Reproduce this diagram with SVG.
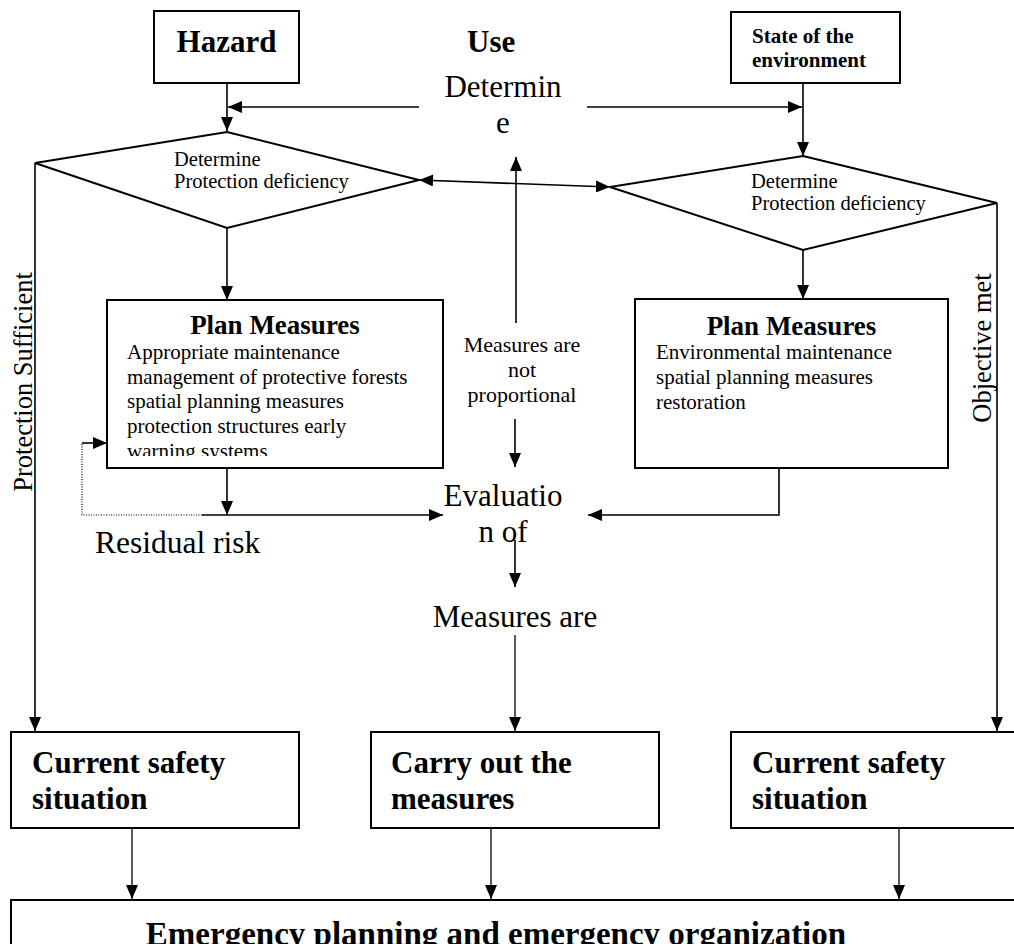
<svg xmlns="http://www.w3.org/2000/svg" width="1014" height="944" viewBox="0 0 1014 944">
  <style>
    text { font-family: "Liberation Serif", "Times New Roman", serif; fill: #000; }
    .box { fill: #fff; stroke: #000; stroke-width: 2; }
    .b { font-weight: bold; }
    .c { text-anchor: middle; }
    .ln { fill: none; stroke: #000; stroke-width: 1.6; }
    .thin { fill: none; stroke: #000; stroke-width: 1.3; }
    .dot { fill: none; stroke: #000; stroke-width: 1.2; stroke-dasharray: 1 1.5; }
  </style>
  <defs>
    <marker id="arr" markerUnits="userSpaceOnUse" markerWidth="15" markerHeight="12" refX="14" refY="6" orient="auto">
      <path d="M0,0 L14,6 L0,12 z" fill="#000"/>
    </marker>
    <marker id="arrS" markerUnits="userSpaceOnUse" markerWidth="15" markerHeight="12" refX="0" refY="6" orient="auto">
      <path d="M14,0 L0,6 L14,12 z" fill="#000"/>
    </marker>
    <clipPath id="clipL">
      <rect x="108" y="301" width="334" height="155"/>
    </clipPath>
  </defs>
  <rect width="1014" height="944" fill="#fff"/>

  <!-- connectors -->
  <g id="connectors">
    <line class="ln" x1="227" y1="83" x2="227" y2="131" marker-end="url(#arr)"/>
    <line class="ln" x1="419" y1="107" x2="228" y2="107" marker-end="url(#arr)"/>
    <line class="ln" x1="587" y1="107" x2="802" y2="107" marker-end="url(#arr)"/>
    <line class="ln" x1="803" y1="83" x2="803" y2="156" marker-end="url(#arr)"/>
    <line class="ln" x1="419" y1="180" x2="610" y2="187" marker-start="url(#arrS)" marker-end="url(#arr)"/>
    <line class="ln" x1="516" y1="323" x2="516" y2="157" marker-end="url(#arr)"/>
    <line class="ln" x1="227" y1="228" x2="227" y2="300" marker-end="url(#arr)"/>
    <line class="ln" x1="803" y1="250" x2="803" y2="299" marker-end="url(#arr)"/>
    <line class="ln" x1="35" y1="163" x2="35" y2="731" marker-end="url(#arr)"/>
    <line class="ln" x1="997" y1="203" x2="997" y2="731" marker-end="url(#arr)"/>
    <line class="ln" x1="227" y1="468" x2="227" y2="515" marker-end="url(#arr)"/>
    <path class="dot" d="M202,515 H82 V443"/>
    <line class="ln" x1="82" y1="443" x2="107" y2="443" marker-end="url(#arr)"/>
    <line class="ln" x1="202" y1="515" x2="443" y2="515" marker-end="url(#arr)"/>
    <path class="ln" d="M779,468 V515 H588" marker-end="url(#arr)"/>
    <line class="ln" x1="515" y1="419" x2="515" y2="467" marker-end="url(#arr)"/>
    <line class="ln" x1="515" y1="540" x2="515" y2="587" marker-end="url(#arr)"/>
    <line class="thin" x1="515" y1="635" x2="515" y2="731" marker-end="url(#arr)"/>
    <line class="thin" x1="132" y1="828" x2="132" y2="899" marker-end="url(#arr)"/>
    <line class="thin" x1="491" y1="828" x2="491" y2="899" marker-end="url(#arr)"/>
    <line class="thin" x1="899" y1="828" x2="899" y2="899" marker-end="url(#arr)"/>
  </g>

  <!-- top inputs -->
  <g id="hazard">
    <rect class="box" x="154" y="11" width="145" height="72"/>
    <text class="b c" x="226.5" y="52" font-size="31">Hazard</text>
  </g>
  <g id="use">
    <text class="b" x="467" y="52" font-size="31">Use</text>
  </g>
  <g id="determine">
    <text class="c" x="503" y="97" font-size="31">Determin</text>
    <text class="c" x="503" y="133" font-size="31">e</text>
  </g>
  <g id="state-environment">
    <rect class="box" x="731" y="12" width="169" height="71"/>
    <text class="b" x="752" y="43" font-size="21">State of the</text>
    <text class="b" x="752" y="67" font-size="21">environment</text>
  </g>

  <!-- decisions -->
  <g id="deficiency-left">
    <polygon class="box" points="227,132 419,180 227,228 35,163"/>
    <text x="174" y="166" font-size="20.5">Determine</text>
    <text x="174" y="188" font-size="20.5">Protection deficiency</text>
  </g>
  <g id="deficiency-right">
    <polygon class="box" points="803,156 997,203 803,250 610,187"/>
    <text x="751" y="188" font-size="20.5">Determine</text>
    <text x="751" y="210" font-size="20.5">Protection deficiency</text>
  </g>

  <!-- side labels -->
  <g id="label-sufficient">
    <text class="c" transform="translate(32,382) rotate(-90)" font-size="26.5">Protection Sufficient</text>
  </g>
  <g id="label-objective">
    <text class="c" transform="translate(991,348) rotate(-90)" font-size="26.5">Objective met</text>
  </g>

  <!-- planning boxes -->
  <g id="plan-left">
    <rect class="box" x="107" y="300" width="336" height="168"/>
    <text class="b c" x="275" y="334" font-size="27">Plan Measures</text>
    <g clip-path="url(#clipL)" font-size="21">
      <text x="127" y="359">Appropriate maintenance</text>
      <text x="127" y="383.7">management of protective forests</text>
      <text x="127" y="408.4">spatial planning measures</text>
      <text x="127" y="433.1">protection structures early</text>
      <text x="127" y="458">warning systems</text>
    </g>
  </g>
  <g id="plan-right">
    <rect class="box" x="635" y="299" width="313" height="169"/>
    <text class="b c" x="791.5" y="335" font-size="27">Plan Measures</text>
    <text x="656" y="359" font-size="21">Environmental maintenance</text>
    <text x="656" y="384" font-size="21">spatial planning measures</text>
    <text x="656" y="409" font-size="21">restoration</text>
  </g>

  <g id="not-proportional">
    <text class="c" x="522" y="352" font-size="22">Measures are</text>
    <text class="c" x="522" y="377" font-size="22">not</text>
    <text class="c" x="522" y="402" font-size="22">proportional</text>
  </g>

  <g id="residual-risk">
    <text x="95" y="553" font-size="31.5">Residual risk</text>
  </g>

  <g id="evaluation">
    <text class="c" x="503" y="506" font-size="31">Evaluatio</text>
    <text class="c" x="503" y="542" font-size="31">n of</text>
  </g>
  <g id="measures-are">
    <text class="c" x="515" y="627" font-size="31">Measures are</text>
  </g>

  <!-- outcomes -->
  <g id="safety-left">
    <rect class="box" x="11" y="732" width="288" height="96"/>
    <text class="b" x="32" y="773" font-size="31">Current safety</text>
    <text class="b" x="32" y="809" font-size="31">situation</text>
  </g>
  <g id="carry-out">
    <rect class="box" x="371" y="732" width="288" height="96"/>
    <text class="b" x="391" y="773" font-size="31">Carry out the</text>
    <text class="b" x="391" y="809" font-size="31">measures</text>
  </g>
  <g id="safety-right">
    <rect class="box" x="731" y="732" width="300" height="96"/>
    <text class="b" x="752" y="773" font-size="31">Current safety</text>
    <text class="b" x="752" y="809" font-size="31">situation</text>
  </g>

  <g id="emergency">
    <rect class="box" x="11" y="900" width="1020" height="60"/>
    <text class="b c" x="496" y="945" font-size="33">Emergency planning and emergency organization</text>
  </g>
</svg>
